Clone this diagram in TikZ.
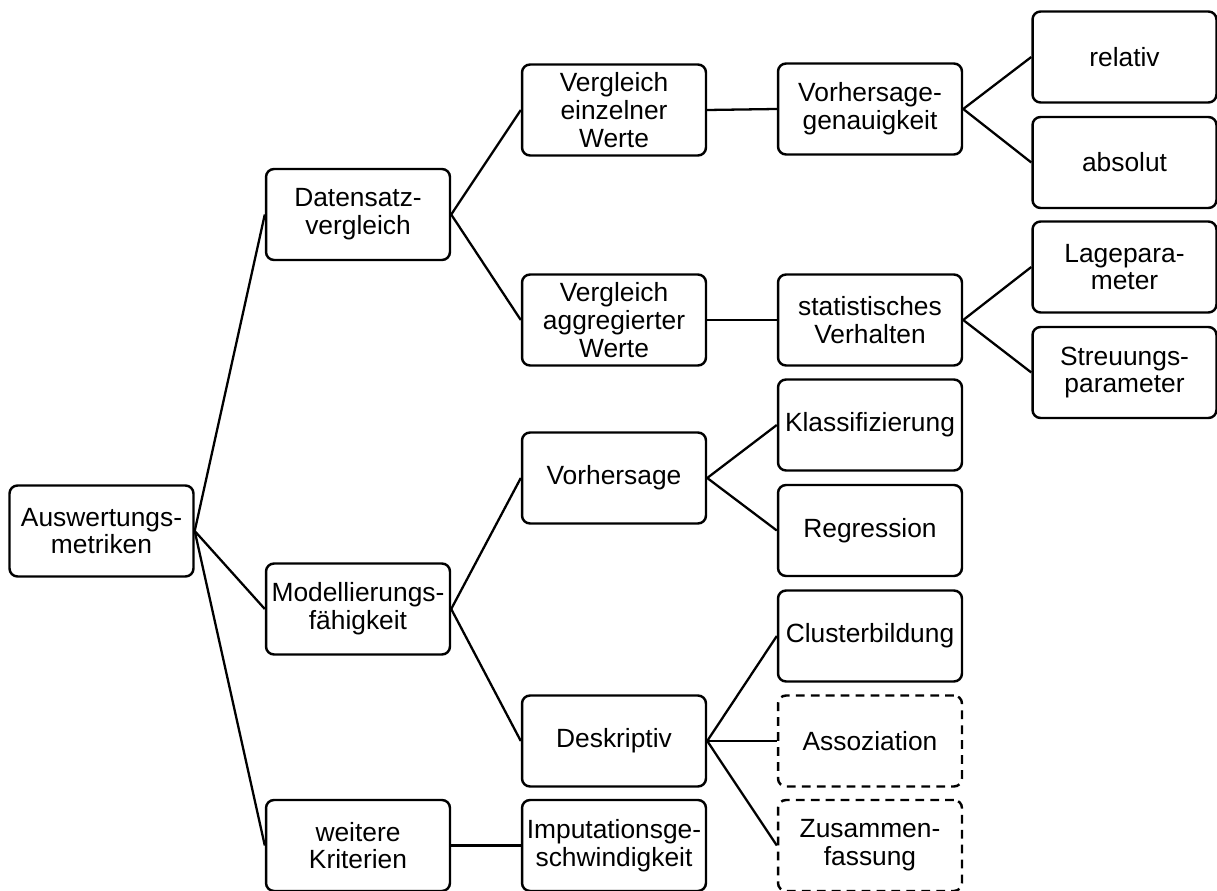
\documentclass[tikz,border=0pt]{standalone}
\usepackage{fontspec}
\setmainfont{Liberation Sans}
\begin{document}
\begin{tikzpicture}[x=0.02cm,y=-0.02cm,
  box/.style={draw, line width=1.4pt, rounded corners=0.16cm,
    minimum width=3.68cm, minimum height=1.82cm, inner sep=0pt,
    align=center, font=\fontsize{15}{15.8}\selectfont},
  dbox/.style={box, dash pattern=on 5pt off 3.5pt},
  link/.style={line width=1.3pt}]
\useasboundingbox (0,0) rectangle (1217,891);

% level 0
\node[box] (aus) at (101.5,531) {Auswertungs-\\metriken};

% level 1
\node[box] (daten)  at (358,214.5) {Datensatz-\\vergleich};
\node[box] (modell) at (358,609)   {Modellierungs-\\fähigkeit};
\node[box] (weiter) at (358,845.5) {weitere\\Kriterien};

% level 2
\node[box] (einz)  at (614,110)   {Vergleich\\einzelner\\Werte};
\node[box] (aggr)  at (614,320)   {Vergleich\\aggregierter\\Werte};
\node[box] (vorh)  at (614,478)   {Vorhersage};
\node[box] (desk)  at (614,741)   {Deskriptiv};
\node[box] (imput) at (614,845.5) {Imputationsge-\\schwindigkeit};

% level 3
\node[box]  (genau)  at (870,109)   {Vorhersage-\\genauigkeit};
\node[box]  (stat)   at (870,320)   {statistisches\\Verhalten};
\node[box]  (klass)  at (870,425)   {Klassifizierung};
\node[box]  (regr)   at (870,530.5) {Regression};
\node[box]  (clust)  at (870,636)   {Clusterbildung};
\node[dbox] (assoz)  at (870,741)   {Assoziation};
\node[dbox] (zusam)  at (870,845.5) {Zusammen-\\fassung};

% level 4
\node[box] (rel)   at (1124.5,57)    {relativ};
\node[box] (abs)   at (1124.5,162.5) {absolut};
\node[box] (lage)  at (1124.5,267)   {Lagepara-\\meter};
\node[box] (streu) at (1124.5,372.5) {Streuungs-\\parameter};

% connectors
\foreach \p/\c in {aus/daten, aus/modell, aus/weiter,
    daten/einz, daten/aggr, modell/vorh, modell/desk, weiter/imput,
    einz/genau, aggr/stat, vorh/klass, vorh/regr,
    desk/clust, desk/assoz, desk/zusam,
    genau/rel, genau/abs, stat/lage, stat/streu}
  \draw[link] (\p.east) -- (\c.west);
\end{tikzpicture}
\end{document}
